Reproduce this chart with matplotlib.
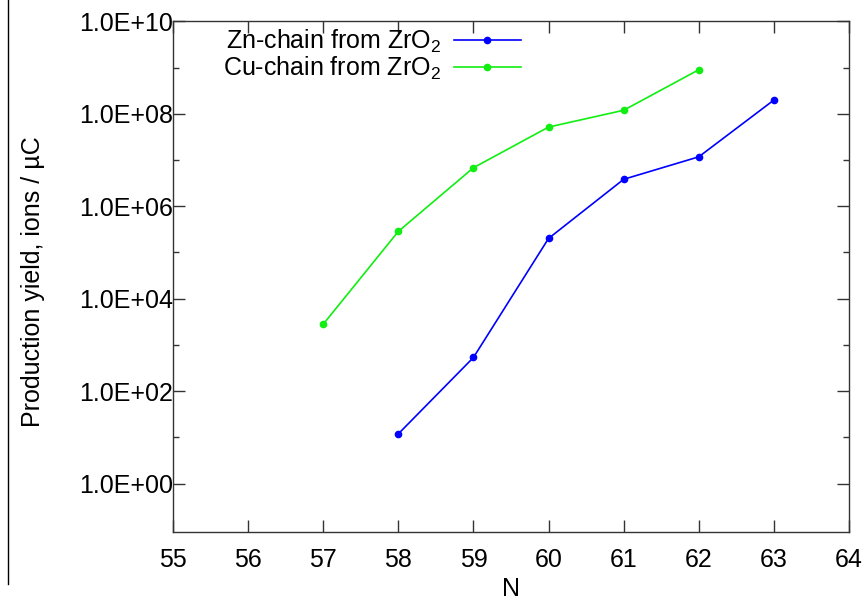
import numpy as np
import matplotlib
matplotlib.use("Agg")
import matplotlib.pyplot as plt
from matplotlib.ticker import FixedLocator, FuncFormatter
from matplotlib.lines import Line2D

plt.rcParams['font.family'] = ['Liberation Sans', 'DejaVu Sans']
plt.rcParams['mathtext.default'] = 'regular'

# data
zn_n = [58, 59, 60, 61, 62, 63]
zn_yield = [11.9, 534, 2.01e5, 3.82e6, 1.17e7, 1.98e8]
cu_n = [57, 58, 59, 60, 61, 62]
cu_yield = [2.8e3, 2.85e5, 6.8e6, 5.15e7, 1.19e8, 8.96e8]
labels = [r'Zn-chain from ZrO$_2$', r'Cu-chain from ZrO$_2$']
x_ticks = list(range(55, 65))

fs = 18

fig = plt.figure(figsize=(8.67, 6.03), dpi=100)
ax = fig.add_axes([173 / 867, 1 - 532.3 / 603, 676 / 867, 511 / 603])

ax.plot(zn_n, zn_yield, color='#0000ff', marker='o', markersize=4.5, lw=1.2, label=labels[0])
ax.plot(cu_n, cu_yield, color='#11ee11', marker='o', markersize=4.5, lw=1.2, label=labels[1])

ax.set_yscale('log')
ax.set_xlim(55, 64)
ax.set_ylim(10 ** -1.054, 1e10)

ax.xaxis.set_major_locator(FixedLocator(x_ticks))
ax.yaxis.set_major_locator(FixedLocator([10.0 ** e for e in range(0, 11, 2)]))
ax.yaxis.set_minor_locator(FixedLocator([10.0 ** e for e in range(1, 10, 2)]))
ax.yaxis.set_major_formatter(FuncFormatter(lambda v, p: '%.1E' % v))
ax.yaxis.set_minor_formatter(FuncFormatter(lambda v, p: ''))

ax.tick_params(which='both', direction='in', top=True, right=True, labelsize=fs,
               color='#333333', width=1)
ax.tick_params(which='major', length=8.5)
ax.tick_params(which='minor', length=4.3)
ax.tick_params(axis='y', pad=0)
ax.tick_params(axis='x', pad=11)
for s in ax.spines.values():
    s.set_color('#333333')
    s.set_linewidth(1)

ax.set_xlabel('N', fontsize=fs)
ax.set_ylabel('Production yield, ions / µC', fontsize=fs)
ax.xaxis.set_label_coords(0.5, -0.088)
ax.yaxis.set_label_coords(-0.19, 0.491)

leg = ax.legend(loc='upper right', bbox_to_anchor=(521 / 867, 1 - 28 / 603),
                bbox_transform=fig.transFigure, frameon=False, markerfirst=False,
                fontsize=fs, handlelength=2.7, handletextpad=0.5, labelspacing=0.0,
                borderpad=0, borderaxespad=0)

# stray frame line on the left of the original image
fig.add_artist(Line2D([8.3 / 867, 8.3 / 867], [1 - 584 / 603, 1.0],
                      transform=fig.transFigure, color='black', lw=1))

fig.savefig('out.png', dpi=100)
